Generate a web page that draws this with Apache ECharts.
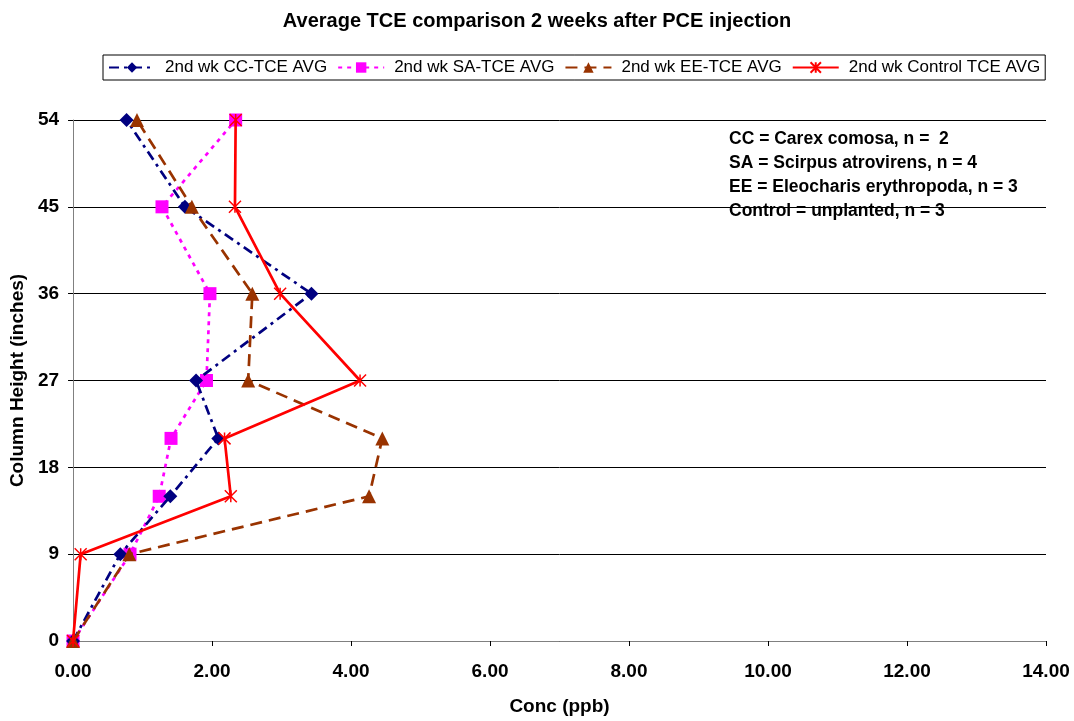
<!DOCTYPE html>
<html>
<head>
<meta charset="utf-8">
<script src="https://cdn.jsdelivr.net/npm/echarts@6/dist/echarts.min.js"></script>
<style>html,body{margin:0;padding:0;background:#fff}#c{width:1074px;height:721px}</style>
</head>
<body>
<div id="c"></div>
<script>
const heights = [0, 9, 15, 21, 27, 36, 45, 54];
const ccValues = [0, 0.68, 1.40, 2.09, 1.77, 3.43, 1.61, 0.77];
const saValues = [0, 0.82, 1.24, 1.41, 1.92, 1.97, 1.28, 2.34];
const eeValues = [0, 0.81, 4.26, 4.45, 2.52, 2.58, 1.71, 0.92];
const controlValues = [0, 0.11, 2.27, 2.18, 4.13, 2.98, 2.33, 2.34];
const seriesNames = ['2nd wk CC-TCE AVG', '2nd wk SA-TCE AVG', '2nd wk EE-TCE AVG', '2nd wk Control TCE AVG'];
const xTicks = [0, 2, 4, 6, 8, 10, 12, 14];
const yTicks = [0, 9, 18, 27, 36, 45, 54];
const noteLines = [
  'CC = Carex comosa, n =  2',
  'SA = Scirpus atrovirens, n = 4',
  'EE = Eleocharis erythropoda, n = 3',
  'Control = unplanted, n = 3'
];

function pairs(vals) { return vals.map((v, i) => [v, heights[i]]); }
const FONT = 'Arial, "Liberation Sans", sans-serif';
const starPath = 'path://M0,0L10,10M10,0L0,10M5,0L5,10';

const chart = echarts.init(document.getElementById('c'), null, {renderer: 'canvas'});
chart.setOption({
  animation: false,
  backgroundColor: '#fff',
  title: {
    text: 'Average TCE comparison 2 weeks after PCE injection',
    left: 'center', top: 6,
    textStyle: {fontFamily: FONT, fontWeight: 'bold', fontSize: 20, color: '#000'}
  },
  legend: {
    left: 103, top: 55,
    padding: [4, 5, 4, 5],
    borderColor: '#000', borderWidth: 1,
    itemWidth: 46, itemHeight: 13, itemGap: 10,
    textStyle: {fontFamily: FONT, fontSize: 17, color: '#000', padding: [0, 0, 0, 5]},
    data: seriesNames
  },
  grid: {left: 73, right: 28, top: 120, bottom: 71, containLabel: false},
  xAxis: {
    type: 'value', min: 0, max: 14, interval: 2,
    name: 'Conc (ppb)', nameLocation: 'middle', nameGap: 56,
    nameTextStyle: {fontFamily: FONT, fontWeight: 'bold', fontSize: 19, color: '#000'},
    axisLine: {show: true, lineStyle: {color: '#808080', width: 1}},
    axisTick: {show: true, length: 5, inside: false, lineStyle: {color: '#000'}},
    axisLabel: {margin: 21, fontFamily: FONT, fontWeight: 'bold', fontSize: 19, color: '#000',
      formatter: v => xTicks.includes(v) ? v.toFixed(2) : ''},
    splitLine: {show: false}
  },
  yAxis: {
    type: 'value', min: 0, max: 54, interval: 9,
    name: 'Column Height (inches)', nameLocation: 'middle', nameGap: 45,
    nameTextStyle: {fontFamily: FONT, fontWeight: 'bold', fontSize: 19, color: '#000'},
    axisLine: {show: true, onZero: false, lineStyle: {color: '#808080', width: 1}},
    axisTick: {show: true, length: 5, inside: false, lineStyle: {color: '#000'}},
    axisLabel: {margin: 14, fontFamily: FONT, fontWeight: 'bold', fontSize: 19, color: '#000',
      formatter: v => yTicks.includes(v) ? String(v) : ''},
    splitLine: {show: true, lineStyle: {color: '#000', width: 1}}
  },
  graphic: [{
    type: 'group', left: 722, top: 124, z: 100,
    children: [
      {type: 'rect', shape: {x: 0, y: 0, width: 320, height: 98}, style: {fill: '#fff'}},
      ...noteLines.map((t, i) => ({
        type: 'text', left: 7, top: 6 + i * 24,
        style: {text: t, fontFamily: FONT, fontWeight: 'bold', fontSize: 17.5, fill: '#000'}
      }))
    ]
  }],
  series: [
    {
      name: seriesNames[0], type: 'line', data: pairs(ccValues),
      symbol: 'diamond', symbolSize: 14,
      itemStyle: {color: '#000080'},
      lineStyle: {color: '#000080', width: 2.7, type: [10, 5, 3, 5]},
      z: 4
    },
    {
      name: seriesNames[1], type: 'line', data: pairs(saValues),
      symbol: 'rect', symbolSize: 13,
      itemStyle: {color: '#FF00FF'},
      lineStyle: {color: '#FF00FF', width: 2.7, type: [4, 5]},
      z: 3
    },
    {
      name: seriesNames[2], type: 'line', data: pairs(eeValues),
      symbol: 'triangle', symbolSize: 14,
      itemStyle: {color: '#993300'},
      lineStyle: {color: '#993300', width: 2.7, type: [12, 7]},
      z: 5
    },
    {
      name: seriesNames[3], type: 'line', data: pairs(controlValues),
      symbol: starPath, symbolSize: 12,
      itemStyle: {color: 'rgba(0,0,0,0)', borderColor: '#FF0000', borderWidth: 1.5},
      lineStyle: {color: '#FF0000', width: 2.7},
      z: 6
    }
  ]
});
</script>
</body>
</html>
